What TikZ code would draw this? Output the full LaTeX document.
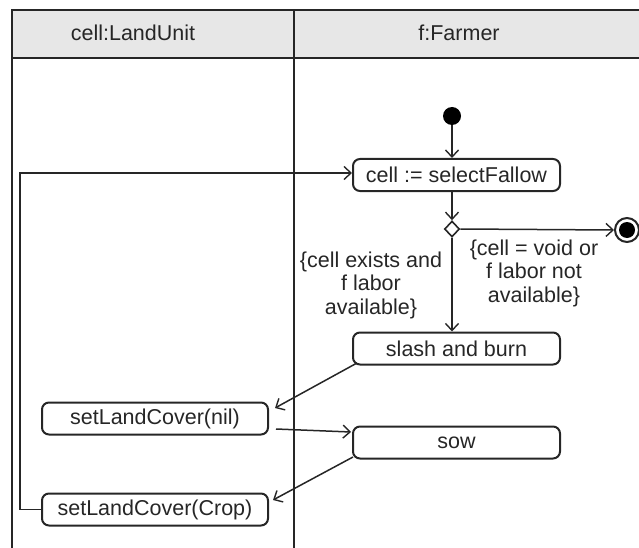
\documentclass[tikz,border=0pt]{standalone}
\usepackage{fontspec}
\setmainfont{Liberation Sans}
\usetikzlibrary{arrows.meta,shapes.geometric,calc}
\definecolor{ink}{HTML}{262626}
\definecolor{headfill}{HTML}{E7E7E7}
\tikzset{
  every node/.style={font=\fontsize{21.5}{23.5}\selectfont, text=ink},
  action/.style={draw=ink, line width=2pt, rounded corners=7pt, inner sep=0pt, minimum height=32pt},
  flow/.style={draw=ink, line width=1.5pt, -{Straight Barb[length=7pt,width=13pt,line width=1.4pt]}},
  lane/.style={draw=ink, line width=2.2pt},
  guard/.style={align=center, inner sep=0pt}
}
\begin{document}
\begin{tikzpicture}[x=1pt,y=-1pt]
\useasboundingbox (0,0) rectangle (639,548);
% swimlane frame and header
\fill[headfill] (12,10) rectangle (639,58);
\draw[lane] (639,10) -- (12,10) -- (12,548);
\draw[lane] (12,58) -- (639,58);
\draw[lane] (294,10) -- (294,548);
\node (hLand) at (133,33) {cell:LandUnit};
\node (hFarm) at (459,33) {f:Farmer};

% control nodes
\node[circle, fill=black, inner sep=0pt, minimum size=18pt] (init) at (452,116) {};
\node[action, minimum width=207pt] (sel) at (456.5,175) {cell := selectFallow};
\node[diamond, draw=ink, line width=1.6pt, fill=white, inner sep=0pt, minimum width=15pt, minimum height=16pt] (dec) at (452,229) {};
\node[circle, draw=ink, line width=2pt, fill=white, inner sep=0pt, minimum size=24pt] (fin) at (627,230) {};
\node[circle, fill=black, inner sep=0pt, minimum size=16pt] (finin) at (fin) {};

% actions
\node[action, minimum width=207pt] (slash) at (456.5,348.5) {slash and burn};
\node[action, minimum width=207pt] (sow) at (456.5,442.5) {sow};
\node[action, minimum width=226pt] (nil) at (155,418.5) {setLandCover(nil)};
\node[action, minimum width=226pt] (crop) at (155,509.5) {setLandCover(Crop)};

% guards
\node[guard] (gyes) at (371,285) {\{cell exists and\\f labor\\available\}};
\node[guard] (gno) at (534,273) {\{cell = void or\\f labor not\\available\}};

% flows
\draw[flow] (init) -- (init |- sel.north);
\draw[flow] (init |- sel.south) -- (dec.north);
\draw[flow] (dec.east) -- (fin.west);
\draw[flow] (dec.south) -- (dec |- slash.north);
\coordinate (slashOut) at (357,363);
\coordinate (nilIn) at (275,408);
\draw[flow] (slashOut) -- (nilIn);
\coordinate (nilOut) at (276,429);
\coordinate (sowIn) at (351,432);
\draw[flow] (nilOut) -- (sowIn);
\coordinate (sowOut) at (353,457);
\coordinate (cropIn) at (273,500);
\draw[flow] (sowOut) -- (cropIn);
\draw[flow] (crop.west) -- (20,509.5) -- (20,173) -- ($(sel.west)+(0,-2)$);
\end{tikzpicture}
\end{document}
